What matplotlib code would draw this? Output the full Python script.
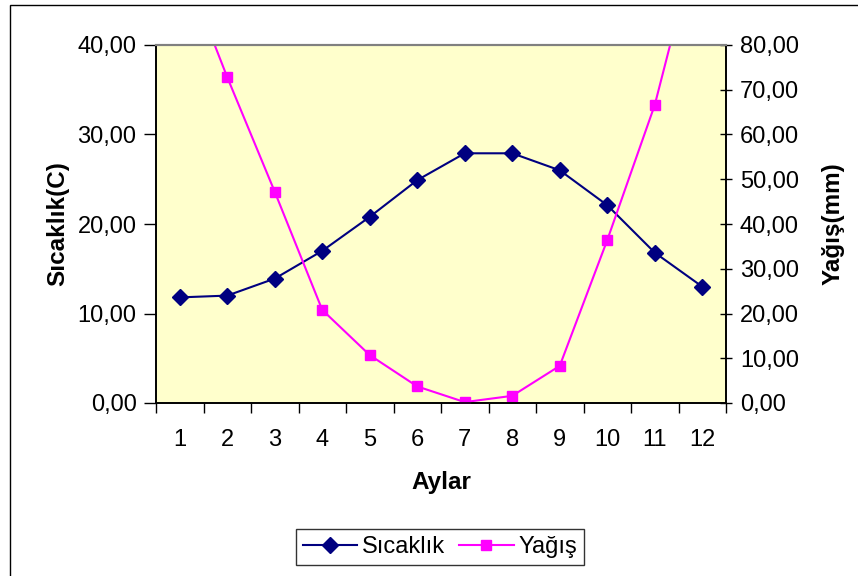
import numpy as np
import matplotlib
matplotlib.use('Agg')
import matplotlib.pyplot as plt
from matplotlib.ticker import FuncFormatter, FixedLocator
from matplotlib.patches import Rectangle

plt.rcParams['font.family'] = ['Liberation Sans', 'DejaVu Sans']

# data
aylar = ['1', '2', '3', '4', '5', '6', '7', '8', '9', '10', '11', '12']
sicaklik = [11.8, 12.0, 13.9, 17.0, 20.8, 24.9, 27.9, 27.9, 26.0, 22.1, 16.8, 13.0]
yagis = [100.0, 72.8, 47.2, 20.8, 10.7, 3.7, 0.2, 1.6, 8.3, 36.4, 66.6, 108.0]

W, H = 858, 576
fig = plt.figure(figsize=(W / 100, H / 100), dpi=100)

# outer chart border (cut off on right/bottom in the original)
fig.patches.append(Rectangle((10 / W, -0.1), 1.2, 1 - 5 / H + 0.1, transform=fig.transFigure,
                             fill=False, edgecolor='black', linewidth=1.0))

ax = fig.add_axes([156 / W, 1 - 403 / H, 570 / W, 358 / H])
ax.set_facecolor('#FFFFCC')
ax2 = ax.twinx()

x = np.arange(len(aylar))
l1, = ax.plot(x, sicaklik, color='#000080', marker='D', markersize=8, linewidth=1.5,
              label='Sıcaklık')
l2, = ax2.plot(x, yagis, color='#FF00FF', marker='s', markersize=7, linewidth=1.5,
               label='Yağış')

ax.set_xlim(-0.5, 11.5)
ax.set_ylim(0, 40)
ax2.set_ylim(0, 80)
ax.set_yticks(np.arange(0, 41, 10))
ax2.set_yticks(np.arange(0, 81, 10))

comma = FuncFormatter(lambda v, p: ('%.2f' % v).replace('.', ','))
ax.yaxis.set_major_formatter(comma)
ax2.yaxis.set_major_formatter(comma)

fs = 17
ax.set_xticks(x)
ax.set_xticklabels(aylar)
ax.xaxis.set_minor_locator(FixedLocator(np.arange(-0.5, 12, 1)))
ax.tick_params(axis='x', which='major', length=0, pad=19, labelsize=fs)
ax.tick_params(axis='x', which='minor', length=7, width=1, direction='out')
ax.tick_params(axis='y', length=9, width=1, direction='out', labelsize=fs, pad=5)
ax2.tick_params(axis='y', length=8, width=1, direction='inout', labelsize=fs, pad=6)

for a in (ax, ax2):
    a.spines['top'].set_color('#808080')
    a.spines['top'].set_linewidth(1.5)
    for s in ('left', 'right', 'bottom'):
        a.spines[s].set_color('black')
        a.spines[s].set_linewidth(1.2)

ax.set_ylabel('Sıcaklık(C)', fontsize=17.5, fontweight='bold', labelpad=6)
ax2.set_ylabel('Yağış(mm)', fontsize=17.5, fontweight='bold', rotation=90, labelpad=16)
ax.set_xlabel('Aylar', fontsize=17.5, fontweight='bold', labelpad=14)

leg = fig.legend(handles=[l1, l2], loc='center', bbox_to_anchor=(440 / W, 1 - 547 / H),
                 ncol=2, fontsize=fs, frameon=True, fancybox=False, shadow=False,
                 handlelength=2.3, handletextpad=0.2, columnspacing=0.6,
                 borderpad=0.3, edgecolor='black')
leg.get_frame().set_linewidth(1.0)

fig.savefig('out.png', dpi=100)
